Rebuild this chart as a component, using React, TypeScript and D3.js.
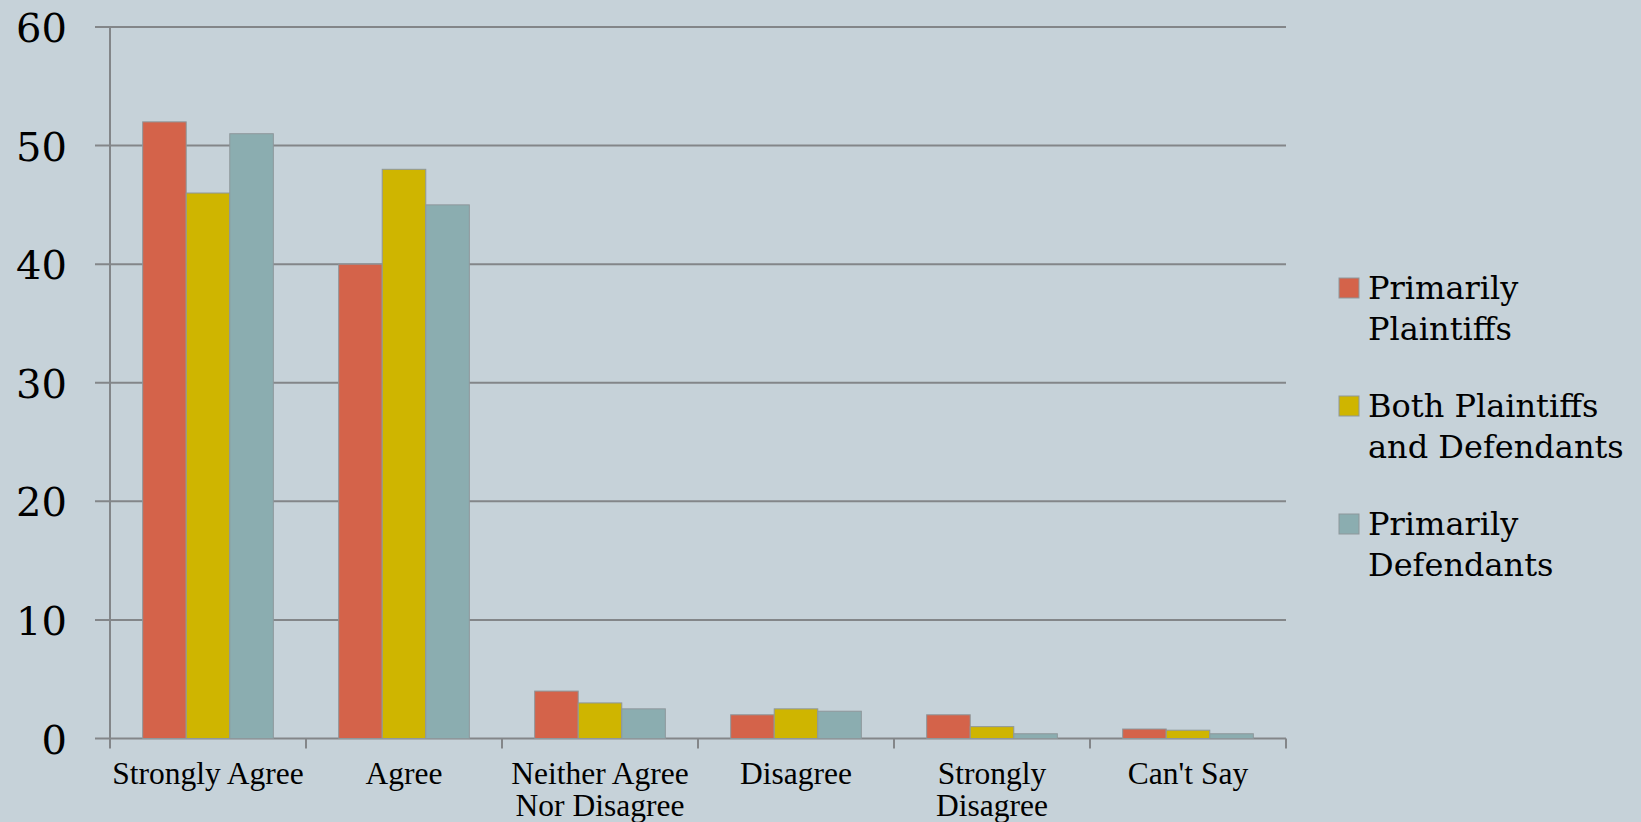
import React from "react";
import * as d3 from "d3";

const categories = [
  ["Strongly Agree"],
  ["Agree"],
  ["Neither Agree", "Nor Disagree"],
  ["Disagree"],
  ["Strongly", "Disagree"],
  ["Can't Say"],
];
const seriesNames = [
  ["Primarily", "Plaintiffs"],
  ["Both Plaintiffs", "and Defendants"],
  ["Primarily", "Defendants"],
];
const primarilyPlaintiffs = [52, 40, 4, 2, 2, 0.8];
const bothSides = [46, 48, 3, 2.5, 1, 0.7];
const primarilyDefendants = [51, 45, 2.5, 2.3, 0.4, 0.4];
const yTicks = [0, 10, 20, 30, 40, 50, 60];
const colors = ["#D4634A", "#CFB500", "#8BADB0"];

const W = 1641;
const H = 822;
const left = 110;
const right = 1286;
const top = 27;
const bottom = 738.5;
const FONT = "'DejaVu Serif', serif";
const LABEL_FONT = "'Liberation Serif', serif";
const LINE = "#838689";

export default function App() {
  const series = [primarilyPlaintiffs, bothSides, primarilyDefendants];
  const keys = categories.map((c) => c.join(" "));
  const x0 = d3.scaleBand<string>().domain(keys).range([left, right]).padding(0);
  const x1 = d3
    .scaleBand<number>()
    .domain([0, 1, 2])
    .range([0, x0.bandwidth()])
    .paddingInner(0)
    .paddingOuter(0.75);
  const y = d3.scaleLinear().domain([0, 60]).range([bottom, top]);

  return (
    <div style={{ position: "absolute", left: 0, top: 0 }}>
      <svg width={W} height={H} style={{ display: "block" }}>
        <rect width={W} height={H} fill="#C6D2D9" />
        {yTicks.map((t) => (
          <g key={t}>
            <line x1={left - 15} x2={right} y1={y(t)} y2={y(t)} stroke={LINE} strokeWidth={2} />
            <text
              x={67}
              y={y(t) + 15}
              textAnchor="end"
              fontFamily={FONT}
              fontSize={40}
              fill="#000"
            >
              {t}
            </text>
          </g>
        ))}
        <line x1={left} x2={left} y1={top} y2={bottom + 10} stroke={LINE} strokeWidth={2} />
        {keys.map((k, i) => (
          <line
            key={"t" + i}
            x1={(x0(k) as number) + x0.bandwidth()}
            x2={(x0(k) as number) + x0.bandwidth()}
            y1={bottom}
            y2={bottom + 10}
            stroke={LINE}
            strokeWidth={2}
          />
        ))}
        {series.map((vals, s) =>
          vals.map((v, i) => (
            <rect
              key={s + "-" + i}
              x={(x0(keys[i]) as number) + (x1(s) as number)}
              y={y(v)}
              width={x1.bandwidth()}
              height={y(0) - y(v)}
              fill={colors[s]}
              stroke="#8E979B"
              strokeWidth={1}
            />
          ))
        )}
        {categories.map((lines, i) => (
          <text
            key={"c" + i}
            textAnchor="middle"
            fontFamily={LABEL_FONT}
            fontSize={31.5}
            fill="#000"
          >
            {lines.map((ln, j) => (
              <tspan key={j} x={(x0(keys[i]) as number) + x0.bandwidth() / 2} y={784 + j * 32}>
                {ln}
              </tspan>
            ))}
          </text>
        ))}
        {seriesNames.map((lines, s) => {
          const base = 299 + s * 118;
          return (
            <g key={"l" + s}>
              <rect x={1339} y={base - 21} width={20} height={20} fill={colors[s]} stroke="#8E979B" strokeWidth={1} />
              <text fontFamily={FONT} fontSize={32} fill="#000">
                {lines.map((ln, j) => (
                  <tspan key={j} x={1368} y={base + j * 41}>
                    {ln}
                  </tspan>
                ))}
              </text>
            </g>
          );
        })}
      </svg>
    </div>
  );
}
